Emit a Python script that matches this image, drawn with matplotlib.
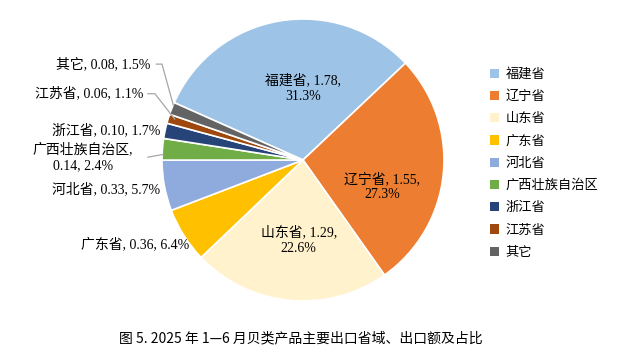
import matplotlib.pyplot as plt
from matplotlib.patches import Patch

provinces = ['福建省', '辽宁省', '山东省', '广东省', '河北省', '广西壮族自治区', '浙江省', '江苏省', '其它']
values = [1.78, 1.55, 1.29, 0.36, 0.33, 0.14, 0.10, 0.06, 0.08]
shares = ['31.3%', '27.3%', '22.6%', '6.4%', '5.7%', '2.4%', '1.7%', '1.1%', '1.5%']
colors = ['#9DC3E6', '#ED7D31', '#FFF2CC', '#FFC000', '#8FAADC', '#70AD47', '#264478', '#9E480E', '#636363']
title = '图 5. 2025 年 1—6 月贝类产品主要出口省域、出口额及占比'

lab_font = ['Liberation Serif', 'Noto Sans CJK SC']
plt.rcParams['font.family'] = ['Liberation Serif', 'Noto Sans CJK SC']

fig = plt.figure(figsize=(6.31, 3.57), dpi=100)
ax = fig.add_axes([162 / 631, 56 / 357, 282 / 631, 282 / 357])

wedges, _ = ax.pie(values, colors=colors, startangle=156, counterclock=False,
                   radius=1, wedgeprops=dict(edgecolor='white', linewidth=1.2))
ax.set_xlim(-1, 1)
ax.set_ylim(-1, 1)
ax.set_aspect('equal')
ax.axis('off')

# label text positions (in pie radius units) and alignment
pos = [
    (0.0, 0.51, 'center'),
    (0.56, -0.19, 'center'),
    (-0.03, -0.57, 'center'),
    (-0.81, -0.60, 'right'),
    (-1.01, -0.21, 'right'),
    (-1.56, 0.02, 'center'),
    (-1.01, 0.21, 'right'),
    (-1.13, 0.47, 'right'),
    (-1.08, 0.68, 'right'),
]

for i, (name, v, s) in enumerate(zip(provinces, values, shares)):
    x, y, ha = pos[i]
    if i in (0, 1, 2):
        txt = f'{name}, {v:.2f},\n{s}'
    elif i == 5:
        txt = f'{name},\n{v:.2f}, {s}'
    else:
        txt = f'{name}, {v:.2f}, {s}'
    ax.text(x, y, txt, ha=ha, va='center', fontsize=10, family=lab_font,
            linespacing=1.25, clip_on=False)

# leader lines for the small slices
lc = '#A6A6A6'
ax.plot([-1.10, -0.99], [0.02, 0.04], color=lc, lw=0.9, clip_on=False)
ax.plot([-1.10, -1.05, -0.91], [0.47, 0.47, 0.29], color=lc, lw=0.9, clip_on=False)
ax.plot([-1.04, -1.0, -0.92], [0.68, 0.68, 0.39], color=lc, lw=0.9, clip_on=False)

handles = [Patch(facecolor=c, edgecolor='none') for c in colors]
fig.legend(handles, provinces, loc='upper left', bbox_to_anchor=(478 / 631, 1 - 56 / 357),
           frameon=False, handlelength=0.7, handleheight=0.7,
           handletextpad=0.5, labelspacing=0.7, prop={'family': ['Noto Sans CJK SC'], 'size': 9.5})

fig.text(301 / 631, 1 - 338 / 357, title, ha='center', va='center', fontsize=10,
         family=['Noto Sans CJK SC'])

plt.savefig('out.png', dpi=100)
